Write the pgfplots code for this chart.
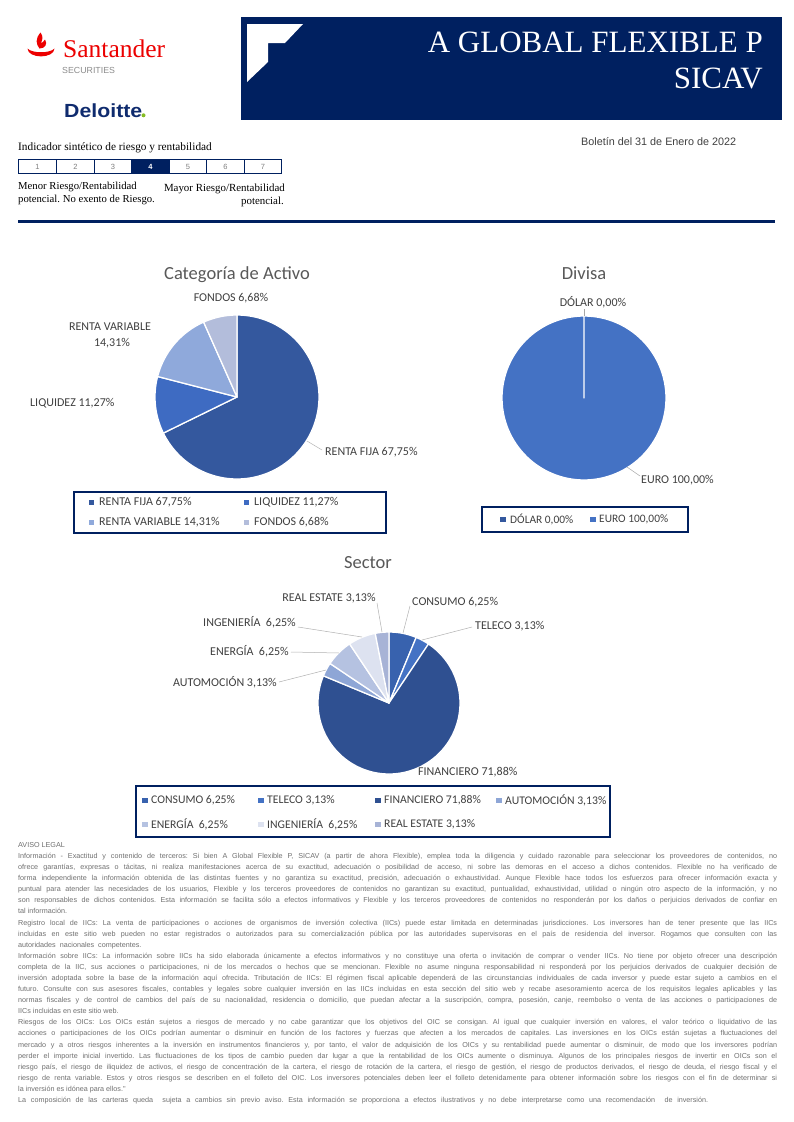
\documentclass[border=0pt]{standalone}
\usepackage{pgfplots}
\pgfplotsset{compat=1.18}
\usepackage{fontspec}
\setmainfont{Liberation Serif}
\newfontfamily\arial{Liberation Sans}
\newfontfamily\calibri{Carlito}
\definecolor{navy}{HTML}{002060}
\definecolor{santred}{HTML}{EC0000}
\definecolor{delblue}{HTML}{0F2B6E}
\definecolor{delgreen}{HTML}{86BC25}
\definecolor{lbl}{HTML}{404040}
\definecolor{ttl}{HTML}{595959}
\definecolor{legal}{HTML}{707070}
% pie colours
\definecolor{rfija}{HTML}{34589E}
\definecolor{liq}{HTML}{3E6BC2}
\definecolor{rvar}{HTML}{8FA9DB}
\definecolor{fondos}{HTML}{B3BDDB}
\definecolor{euro}{HTML}{4472C4}
\definecolor{consumo}{HTML}{3862AE}
\definecolor{teleco}{HTML}{4472C4}
\definecolor{financ}{HTML}{2F5091}
\definecolor{automoc}{HTML}{8EA6D6}
\definecolor{energia}{HTML}{B5C2E1}
\definecolor{ingen}{HTML}{DDE2F0}
\definecolor{realest}{HTML}{A7B3D6}
\newcommand\fs[1]{\fontsize{#1}{#1}\selectfont}
\newcommand\pieplot[1]{%
  \def\cum{0}%
  \pgfplotsforeachungrouped \v/\c in {#1}{%
    \pgfmathsetmacro\a{90-3.6*\cum}%
    \pgfmathsetmacro\b{90-3.6*(\cum+\v)}%
    \edef\cmd{\noexpand\addplot[fill=\c, draw=white, line width=1.3pt, line join=round, domain=\b:\a, samples=120] ({cos(x)},{sin(x)}) -- (axis cs:0,0) -- cycle;}%
    \cmd
    \pgfmathsetmacro\cum{\cum+\v}%
  }%
}
\pgfplotsset{pieaxis/.style={scale only axis, hide axis, clip=false, anchor=origin,
  xmin=-1, xmax=1, ymin=-1, ymax=1}}
\newcommand\LL[2]{\node[anchor=base west, inner sep=0pt, font=\arial\fs{7.2}, text=legal] at (18,-#1) {\makebox[759pt][s]{#2}};}
\newcommand\LN[2]{\node[anchor=base west, inner sep=0pt, font=\arial\fs{7.2}, text=legal] at (18,-#1) {#2};}
\begin{document}
\frenchspacing
\begin{tikzpicture}[x=1pt,y=1pt]
\path[use as bounding box, fill=white] (0,0) rectangle (794,-1122);
% ---------- logos
\fill[santred] (27.5,-48.5) .. controls (28,-59) and (54,-59) .. (54.5,-48.5)
   .. controls (50,-53.5) and (32,-53.5) .. cycle;
\fill[santred] (40.5,-32.5) .. controls (35,-39) and (36,-44) .. (39.5,-48.5)
   .. controls (45,-48.5) and (48,-44) .. (45,-39.5) .. controls (43.5,-42) and (42,-43) .. (41,-43)
   .. controls (43,-39) and (43,-36) .. cycle;
\node[anchor=base west, inner sep=0pt, text=santred, font=\fs{25.5}] at (63,-57) {Santander};
\node[anchor=base west, inner sep=0pt, text=gray!90, font=\arial\fs{8.8}] at (62,-73) {SECURITIES};
\node[anchor=base west, inner sep=0pt, text=delblue, font=\arial\bfseries\fs{19}, xscale=1.12] at (64,-117) {Deloitte};
\fill[delgreen] (143.5,-115.3) circle (2);
% ---------- header
\fill[navy] (241,-17) rectangle (782,-120);
\fill[white] (247,-24) -- (303,-24) -- (285,-43) -- (268,-43) -- (268,-62) -- (247,-82) -- cycle;
\node[anchor=base east, inner sep=0pt, text=white, font=\fs{31}] at (763,-52) {A GLOBAL FLEXIBLE P};
\node[anchor=base east, inner sep=0pt, text=white, font=\fs{31}] at (763,-88) {SICAV};
\node[anchor=base west, inner sep=0pt, text=lbl, font=\arial\fs{10.8}] at (581,-145) {Boletín del 31 de Enero de 2022};
% ---------- risk indicator
\node[anchor=base west, inner sep=0pt, text=black, font=\fs{11.3}] at (18,-150) {Indicador sintético de riesgo y rentabilidad};
\fill[navy] (131.7,-159.5) rectangle (169.3,-173.5);
\draw[navy, line width=0.9pt] (18.3,-159.5) rectangle (281.7,-173.5);
\foreach \xx in {56.7,94.3,131.7,169.3,206.7,244.3} \draw[navy, line width=0.9pt] (\xx,-159.5) -- (\xx,-173.5);
\foreach \xx/\n in {37.5/1,75.5/2,113/3,188/5,225.5/6,263/7}
  \node[inner sep=0pt, text=gray, font=\arial\fs{7.5}] at (\xx,-166.5) {\n};
\node[inner sep=0pt, text=white, font=\arial\bfseries\fs{7.5}] at (150.5,-166.5) {4};
\node[anchor=base west, inner sep=0pt, font=\fs{10.7}] at (18,-189) {Menor Riesgo/Rentabilidad};
\node[anchor=base west, inner sep=0pt, font=\fs{10.7}] at (18,-202) {potencial. No exento de Riesgo.};
\node[anchor=base east, inner sep=0pt, font=\fs{10.9}] at (285,-191) {Mayor Riesgo/Rentabilidad};
\node[anchor=base east, inner sep=0pt, font=\fs{10.9}] at (284,-204) {potencial.};
\draw[navy, line width=3pt] (18,-221) -- (775,-221);
% ---------- pie 1: Categoria de Activo
\node[text=ttl, font=\calibri\fs{18.5}] at (237,-275) {Categoría de Activo};
\begin{axis}[pieaxis, at={(237pt,-397pt)}, width=164pt, height=164pt]
\pieplot{67.75/rfija, 11.27/liq, 14.31/rvar, 6.68/fondos}
\end{axis}
\draw[gray!60, line width=0.5pt] (307,-441) -- (322,-450);
\begin{scope}[font=\calibri\fs{12}, text=lbl]
\node[anchor=base, inner sep=0pt] at (231,-301) {FONDOS 6,68\%};
\node[anchor=base, inner sep=0pt] at (110,-330) {RENTA VARIABLE};
\node[anchor=base, inner sep=0pt] at (112,-346) {14,31\%};
\node[anchor=base west, inner sep=0pt] at (30,-406) {LIQUIDEZ 11,27\%};
\node[anchor=base west, inner sep=0pt] at (325,-455) {RENTA FIJA 67,75\%};
\end{scope}
\draw[navy, line width=1.6pt] (74,-492) rectangle (386,-533);
\begin{scope}[font=\calibri\fs{12}, text=lbl]
\fill[rfija] (88.5,-499.5) rectangle (94,-505);
\node[anchor=west, inner sep=0pt] at (99,-502.5) {RENTA FIJA 67,75\%};
\fill[liq] (243.5,-499.5) rectangle (249,-505);
\node[anchor=west, inner sep=0pt] at (254,-502.5) {LIQUIDEZ 11,27\%};
\fill[rvar] (88.5,-519.5) rectangle (94,-525);
\node[anchor=west, inner sep=0pt] at (99,-522.5) {RENTA VARIABLE 14,31\%};
\fill[fondos] (243.5,-519.5) rectangle (249,-525);
\node[anchor=west, inner sep=0pt] at (254,-522.5) {FONDOS 6,68\%};
\end{scope}
% ---------- pie 2: Divisa
\node[text=ttl, font=\calibri\fs{18.5}] at (584,-273) {Divisa};
\begin{axis}[pieaxis, at={(584pt,-398pt)}, width=164pt, height=164pt]
\pieplot{100/euro}
\end{axis}
\draw[gray!70, line width=0.5pt] (584,-316) -- (584,-309);
\draw[gray!70, line width=0.5pt] (627,-467) -- (640,-476);
\begin{scope}[font=\calibri\fs{12}, text=lbl]
\node[anchor=base, inner sep=0pt] at (593,-306) {DÓLAR 0,00\%};
\node[anchor=base west, inner sep=0pt] at (641,-483) {EURO 100,00\%};
\end{scope}
\draw[navy, line width=1.6pt] (482,-507) rectangle (688,-532);
\begin{scope}[font=\calibri\fs{11.4}, text=lbl]
\fill[rfija] (500,-516.5) rectangle (505.5,-522);
\node[anchor=west, inner sep=0pt] at (510,-519.5) {DÓLAR 0,00\%};
\fill[euro] (590,-516.5) rectangle (595.5,-522);
\node[anchor=west, inner sep=0pt] at (599,-519.5) {EURO 100,00\%};
\end{scope}
% ---------- pie 3: Sector
\node[text=ttl, font=\calibri\fs{18.5}] at (368,-563) {Sector};
\begin{axis}[pieaxis, at={(389pt,-703pt)}, width=142pt, height=142pt]
\pieplot{6.25/consumo, 3.13/teleco, 71.88/financ, 3.13/automoc, 6.25/energia, 6.25/ingen, 3.13/realest}
\end{axis}
\begin{scope}[gray!60, line width=0.5pt]
\draw (403,-633) -- (410,-606);
\draw (422,-640) -- (472,-627);
\draw (382,-632) -- (377,-603);
\draw (362,-637) -- (298,-627);
\draw (339,-653) -- (291,-652);
\draw (326,-670) -- (279,-682);
\end{scope}
\begin{scope}[font=\calibri\fs{12}, text=lbl]
\node[anchor=base, inner sep=0pt] at (329,-601) {REAL ESTATE 3,13\%};
\node[anchor=base west, inner sep=0pt] at (412,-605) {CONSUMO 6,25\%};
\node[anchor=base west, inner sep=0pt] at (475,-629) {TELECO 3,13\%};
\node[anchor=base east, inner sep=0pt] at (296,-626) {INGENIERÍA\ \ 6,25\%};
\node[anchor=base east, inner sep=0pt] at (289,-655) {ENERGÍA\ \ 6,25\%};
\node[anchor=base east, inner sep=0pt] at (277,-686) {AUTOMOCIÓN 3,13\%};
\node[anchor=base west, inner sep=0pt] at (418,-775) {FINANCIERO 71,88\%};
\end{scope}
\draw[navy, line width=1.6pt] (136,-786) rectangle (610,-837);
\begin{scope}[font=\calibri\fs{11.7}, text=lbl]
\fill[consumo] (142,-797.5) rectangle (147.5,-803);
\node[anchor=west, inner sep=0pt] at (151,-800.5) {CONSUMO 6,25\%};
\fill[teleco] (258,-797.5) rectangle (263.5,-803);
\node[anchor=west, inner sep=0pt] at (267,-800.5) {TELECO 3,13\%};
\fill[financ] (375,-797.5) rectangle (380.5,-803);
\node[anchor=west, inner sep=0pt] at (384,-800.5) {FINANCIERO 71,88\%};
\fill[automoc] (496,-797.5) rectangle (501.5,-803);
\node[anchor=west, inner sep=0pt] at (505,-800.5) {AUTOMOCIÓN 3,13\%};
\fill[energia] (142,-821.5) rectangle (147.5,-827);
\node[anchor=west, inner sep=0pt] at (151,-824.5) {ENERGÍA\ \ 6,25\%};
\fill[ingen] (258,-821.5) rectangle (263.5,-827);
\node[anchor=west, inner sep=0pt] at (267,-824.5) {INGENIERÍA\ \ 6,25\%};
\fill[realest] (375,-821.5) rectangle (380.5,-827);
\node[anchor=west, inner sep=0pt] at (384,-824.5) {REAL ESTATE 3,13\%};
\end{scope}
% ---------- legal text
\LN{847}{AVISO LEGAL}
\LL{858.5}{Información - Exactitud y contenido de terceros: Si bien A Global Flexible P, SICAV (a partir de ahora Flexible), emplea toda la diligencia y cuidado razonable para seleccionar los proveedores de contenidos, no}
\LL{869.5}{ofrece garantías, expresas o tácitas, ni realiza manifestaciones acerca de su exactitud, adecuación o posibilidad de acceso, ni sobre las demoras en el acceso a dichos contenidos. Flexible no ha verificado de}
\LL{880.5}{forma independiente la información obtenida de las distintas fuentes y no garantiza su exactitud, precisión, adecuación o exhaustividad. Aunque Flexible hace todos los esfuerzos para ofrecer información exacta y}
\LL{891.5}{puntual para atender las necesidades de los usuarios, Flexible y los terceros proveedores de contenidos no garantizan su exactitud, puntualidad, exhaustividad, utilidad o ningún otro aspecto de la información, y no}
\LL{902.5}{son responsables de dichos contenidos. Esta información se facilita sólo a efectos informativos y Flexible y los terceros proveedores de contenidos no responderán por los daños o perjuicios derivados de confiar en}
\LN{913.5}{tal información.}
\LL{925}{Registro local de IICs: La venta de participaciones o acciones de organismos de inversión colectiva (IICs) puede estar limitada en determinadas jurisdicciones. Los inversores han de tener presente que las IICs}
\LL{936}{incluidas en este sitio web pueden no estar registrados o autorizados para su comercialización pública por las autoridades supervisoras en el país de residencia del inversor. Rogamos que consulten con las}
\LN{947}{autoridades\ \ nacionales\ \ competentes.}
\LL{958}{Información sobre IICs: La información sobre IICs ha sido elaborada únicamente a efectos informativos y no constituye una oferta o invitación de comprar o vender IICs. No tiene por objeto ofrecer una descripción}
\LL{969}{completa de la IIC, sus acciones o participaciones, ni de los mercados o hechos que se mencionan. Flexible no asume ninguna responsabilidad ni responderá por los perjuicios derivados de cualquier decisión de}
\LL{980}{inversión adoptada sobre la base de la información aquí ofrecida. Tributación de IICs: El régimen fiscal aplicable dependerá de las circunstancias individuales de cada inversor y puede estar sujeto a cambios en el}
\LL{991.5}{futuro. Consulte con sus asesores fiscales, contables y legales sobre cualquier inversión en las IICs incluidas en esta sección del sitio web y recabe asesoramiento acerca de los requisitos legales aplicables y las}
\LL{1002.5}{normas fiscales y de control de cambios del país de su nacionalidad, residencia o domicilio, que puedan afectar a la suscripción, compra, posesión, canje, reembolso o venta de las acciones o participaciones de}
\LN{1013.5}{IICs incluidas en este sitio web.}
\LL{1024.5}{Riesgos de los OICs: Los OICs están sujetos a riesgos de mercado y no cabe garantizar que los objetivos del OIC se consigan. Al igual que cualquier inversión en valores, el valor teórico o liquidativo de las}
\LL{1035.5}{acciones o participaciones de los OICs podrían aumentar o disminuir en función de los factores y fuerzas que afecten a los mercados de capitales. Las inversiones en los OICs están sujetas a fluctuaciones del}
\LL{1047}{mercado y a otros riesgos inherentes a la inversión en instrumentos financieros y, por tanto, el valor de adquisición de los OICs y su rentabilidad puede aumentar o disminuir, de modo que los inversores podrían}
\LL{1058}{perder el importe inicial invertido. Las fluctuaciones de los tipos de cambio pueden dar lugar a que la rentabilidad de los OICs aumente o disminuya. Algunos de los principales riesgos de invertir en OICs son el}
\LL{1069}{riesgo país, el riesgo de iliquidez de activos, el riesgo de concentración de la cartera, el riesgo de rotación de la cartera, el riesgo de gestión, el riesgo de productos derivados, el riesgo de deuda, el riesgo fiscal y el}
\LL{1080}{riesgo de renta variable. Estos y otros riesgos se describen en el folleto del OIC. Los inversores potenciales deben leer el folleto detenidamente para obtener información sobre los riesgos con el fin de determinar si}
\LN{1091}{la inversión es idónea para ellos."}
\node[anchor=base west, inner sep=0pt, font=\arial\fs{7.2}, text=legal] at (18,-1102) {\makebox[690pt][s]{La composición de las carteras queda\ \ sujeta a cambios sin previo aviso. Esta información se proporciona a efectos ilustrativos y no debe interpretarse como una recomendación\ \ de inversión.}};
\end{tikzpicture}
\end{document}
